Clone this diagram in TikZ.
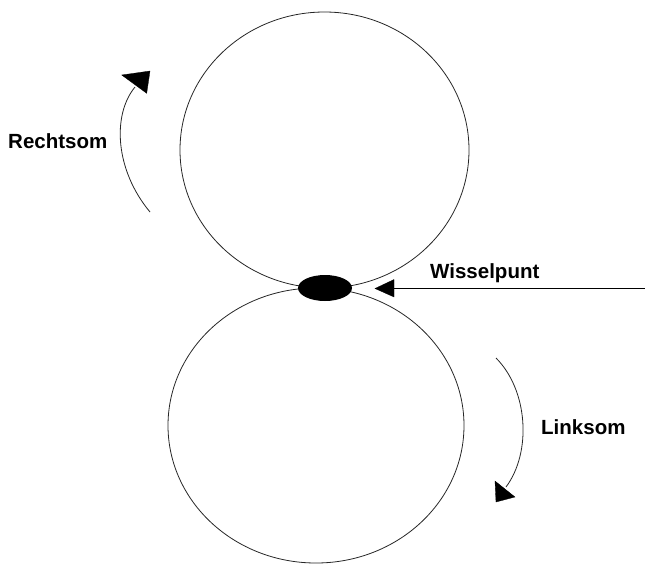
\documentclass[tikz,border=0pt]{standalone}
\usepackage{fontspec}
\setmainfont{Liberation Sans}
\usetikzlibrary{shapes.geometric}
\begin{document}
\begin{tikzpicture}[x=1pt,y=-1pt,
  ring/.style={draw=black!85,line width=0.8pt,ellipse,inner sep=0pt},
  rotarc/.style={draw=black!85,line width=0.8pt},
  head/.style={fill=black,draw=black,line width=0.3pt},
  lbl/.style={font=\bfseries\fontsize{20.5}{24}\selectfont,anchor=base west,inner sep=0pt}]
\useasboundingbox (0,0) rectangle (645,563);
% circles
\node[ring,minimum width=289pt,minimum height=276pt] (top) at (324.5,150) {};
\node[ring,minimum width=296pt,minimum height=275pt] (bot) at (316,425.5) {};
% switch point
\node[fill=black,ellipse,minimum width=54pt,minimum height=26pt,inner sep=0pt] (wp) at (325,288) {};
% pointer arrow
\coordinate (pstart) at (645,288.5);
\coordinate (pbase) at (394,288.5);
\draw[line width=0.9pt] (pstart) -- (pbase);
\fill[head] (375,288.5) -- (394,279.5) -- (394,297) -- cycle;
% Rechtsom arc
\coordinate (r0) at (150,212);
\coordinate (r1) at (135,87);
\draw[rotarc] (r0) .. controls (115,170) and (112,115) .. (r1);
\fill[head] (150,71) -- (121.7,75) -- (146.7,93.3) -- cycle;
% Linksom arc
\coordinate (l0) at (496,358);
\coordinate (l1) at (506,487);
\draw[rotarc] (l0) .. controls (528,390) and (532,452) .. (l1);
\fill[head] (496,502) -- (495,481) -- (515,497) -- cycle;
% labels
\node[lbl] (lr) at (8,148) {Rechtsom};
\node[lbl] (lw) at (430,278) {Wisselpunt};
\node[lbl] (ll) at (541,434) {Linksom};
\end{tikzpicture}
\end{document}
